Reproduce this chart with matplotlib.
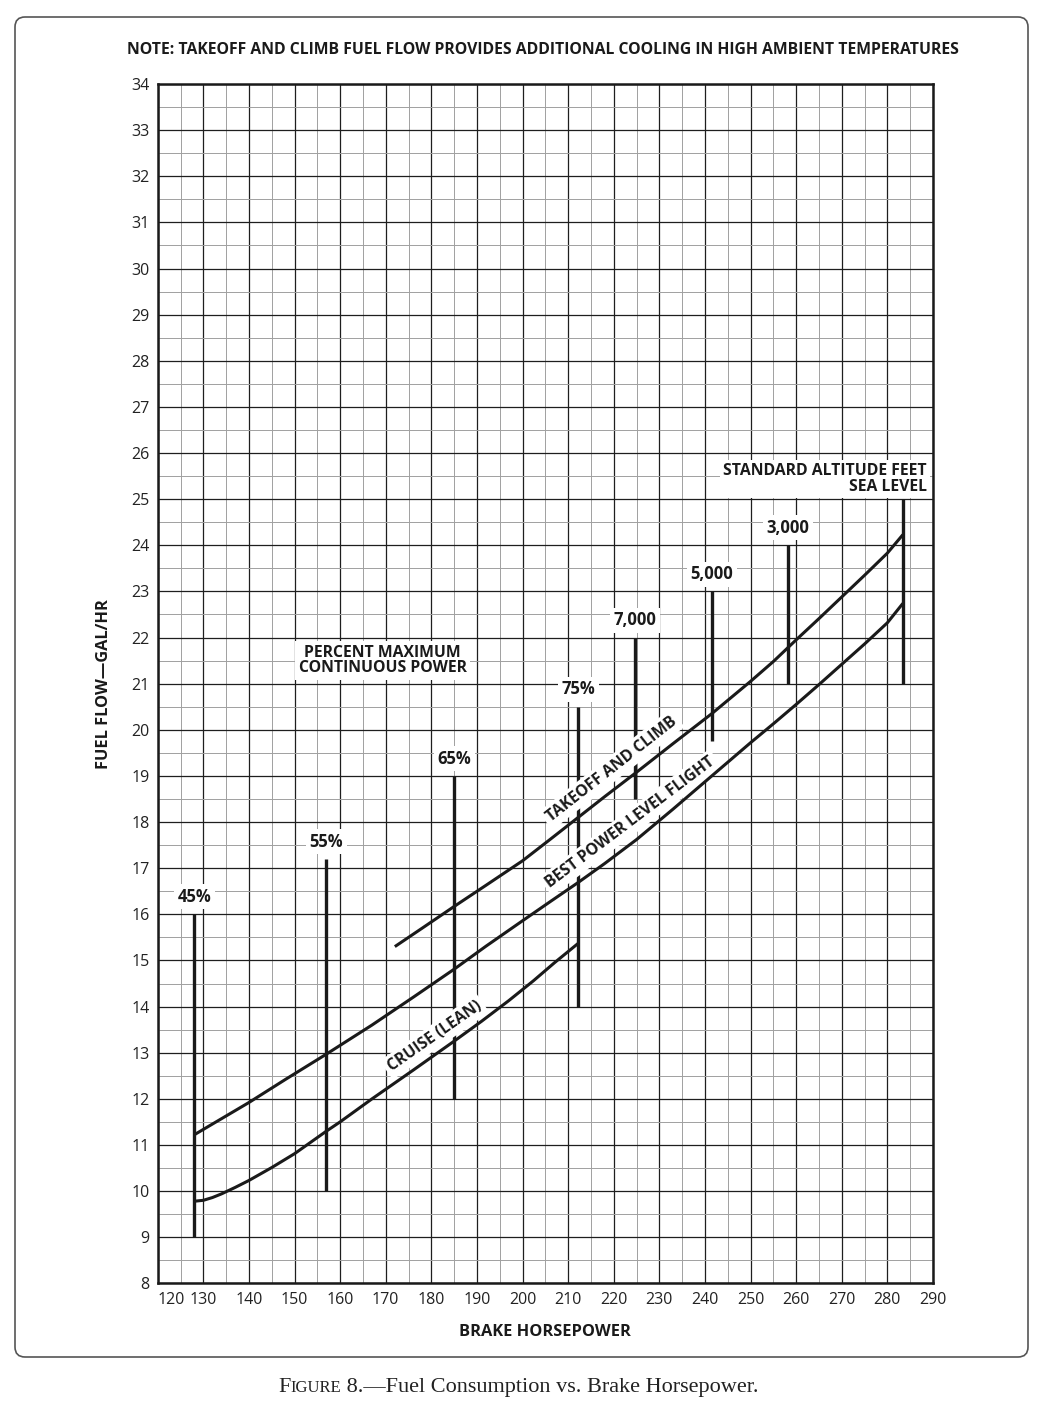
import numpy as np
import matplotlib.pyplot as plt
from matplotlib.patches import FancyBboxPatch
from matplotlib.offsetbox import TextArea, HPacker, AnchoredOffsetbox

plt.rcParams['font.family'] = ['Open Sans', 'DejaVu Sans']

## curves: brake horsepower vs fuel flow (gal/hr)
takeoff_hp = [172, 178, 185, 192, 200, 206, 212.2, 218, 225, 233, 241.5, 250, 255, 260, 265, 270, 275, 280, 283.4]
takeoff_gph = [15.3, 15.7, 16.17, 16.63, 17.16, 17.62, 18.1, 18.55, 19.08, 19.7, 20.35, 21.05, 21.48, 21.95, 22.41, 22.88, 23.35, 23.83, 24.23]

bestpower_hp = [128, 134, 140, 148, 157, 167, 176, 185, 192, 200, 206, 212.2, 218, 225, 233, 241.5, 250, 255, 260, 265, 270, 275, 280, 283.4]
bestpower_gph = [11.22, 11.57, 11.92, 12.42, 12.97, 13.6, 14.2, 14.81, 15.31, 15.86, 16.27, 16.69, 17.1, 17.62, 18.28, 19.0, 19.72, 20.13, 20.55, 20.98, 21.42, 21.86, 22.32, 22.74]

cruise_hp = [128, 130, 132, 134, 137, 140, 145, 150, 157, 160, 167, 176, 185, 191, 197, 202.4, 207, 212.2]
cruise_gph = [9.78, 9.8, 9.86, 9.94, 10.08, 10.23, 10.51, 10.81, 11.3, 11.5, 12.0, 12.62, 13.25, 13.68, 14.13, 14.56, 14.95, 15.37]

## percent maximum continuous power markers
pct_labels = ['45%', '55%', '65%', '75%']
pct_hp = [128, 157, 185, 212.2]
pct_lo = [9, 10, 12, 14]
pct_hi = [16, 17.2, 19, 20.5]

## standard altitude markers
alt_labels = ['7,000', '5,000', '3,000']
alt_hp = [224.7, 241.5, 258.2]
alt_lo = [18.5, 19.75, 21]
alt_hi = [22, 23, 24]
sea_hp = 283.4
sea_lo, sea_hi = 21, 25

x_ticks = list(range(120, 291, 10))
y_ticks = list(range(8, 35))

fig = plt.figure(figsize=(10.43, 14.14), dpi=100)
ax = fig.add_axes([0.1512, 0.0924, 0.7433, 0.8482])

ax.set_xlim(120, 290)
ax.set_ylim(8, 34)
ax.set_xticks(x_ticks)
ax.set_xticks(np.arange(125, 290, 10), minor=True)
ax.set_yticks(y_ticks)
ax.set_yticks(np.arange(8.5, 34, 1), minor=True)
ax.grid(which='major', color='#1e1e1e', lw=0.9, zorder=1)
ax.grid(which='minor', color='#a0a0a0', lw=0.7, zorder=0)
ax.set_axisbelow(True)
ax.tick_params(which='both', length=0, labelsize=11.5, colors='#222')
ax.tick_params(axis='y', pad=6)
ax.tick_params(axis='x', pad=6)
for s in ax.spines.values():
    s.set_linewidth(1.8)
    s.set_color('#1a1a1a')
ax.get_xticklabels()[0].set_horizontalalignment('left')

ax.set_xlabel('BRAKE HORSEPOWER', fontsize=11.8, fontweight='bold', labelpad=12, color='#1a1a1a')
ax.set_ylabel('FUEL FLOW\u2014GAL/HR', fontsize=11.8, fontweight='bold', labelpad=14, color='#1a1a1a')

lab = dict(fontsize=11.3, fontweight='bold', color='#1a1a1a', zorder=4)
box = dict(facecolor='white', edgecolor='none', pad=2.5)

# vertical markers
for name, x, lo, hi in zip(pct_labels, pct_hp, pct_lo, pct_hi):
    ax.plot([x, x], [lo, hi], color='#1a1a1a', lw=2.4, zorder=3, solid_capstyle='butt')
    ax.annotate(name, (x, hi), xytext=(0, 6), textcoords='offset points',
                ha='center', va='bottom', bbox=box, fontsize=12, fontweight='bold',
                color='#1a1a1a', zorder=4)
for name, x, lo, hi in zip(alt_labels, alt_hp, alt_lo, alt_hi):
    ax.plot([x, x], [lo, hi], color='#1a1a1a', lw=2.4, zorder=3, solid_capstyle='butt')
    ax.annotate(name, (x, hi), xytext=(0, 6), textcoords='offset points',
                ha='center', va='bottom', bbox=box, fontsize=12, fontweight='bold',
                color='#1a1a1a', zorder=4)
ax.plot([sea_hp, sea_hp], [sea_lo, sea_hi], color='#1a1a1a', lw=2.4, zorder=3, solid_capstyle='butt')
ax.text(288.6, 25.1, 'STANDARD ALTITUDE FEET\nSEA LEVEL', ha='right', va='bottom',
        linespacing=0.95, multialignment='right', bbox=box, **lab)

ax.text(169.3, 21.5, 'PERCENT MAXIMUM\nCONTINUOUS POWER', ha='center', va='center',
        linespacing=0.95, bbox=box, **lab)

# curves
for hp, gph in [(takeoff_hp, takeoff_gph), (bestpower_hp, bestpower_gph), (cruise_hp, cruise_gph)]:
    ax.plot(hp, gph, color='#1a1a1a', lw=2.2, zorder=5, solid_capstyle='butt', solid_joinstyle='round')

ax.text(219.5, 19.14, 'TAKEOFF AND CLIMB', rotation=38, ha='center', va='center',
        rotation_mode='anchor', bbox=box, **lab)
ax.text(223.7, 17.99, 'BEST POWER LEVEL FLIGHT', rotation=37, ha='center', va='center',
        rotation_mode='anchor', bbox=box, **lab)
ax.text(180.7, 13.35, 'CRUISE (LEAN)', rotation=35, ha='center', va='center',
        rotation_mode='anchor', bbox=box, **lab)

fig.text(0.5206, 1 - 50 / 1414, 'NOTE: TAKEOFF AND CLIMB FUEL FLOW PROVIDES ADDITIONAL COOLING IN HIGH AMBIENT TEMPERATURES',
         ha='center', va='center', fontsize=11.3, fontweight='bold', color='#1a1a1a')

# rounded outer frame
frame = FancyBboxPatch((0.15, 0.57), 10.13, 13.40, boxstyle='round,pad=0,rounding_size=0.1',
                       transform=fig.dpi_scale_trans, fill=False, ec='#555555', lw=1.2)
fig.add_artist(frame)

# caption with small caps
serif = dict(family='Liberation Serif', color='#222')
parts = [TextArea('F', textprops=dict(fontsize=16, **serif)),
         TextArea('IGURE', textprops=dict(fontsize=12, **serif)),
         TextArea(' 8.\u2014Fuel Consumption vs. Brake Horsepower.', textprops=dict(fontsize=16, **serif))]
cap = HPacker(children=parts, align='baseline', pad=0, sep=0)
anch = AnchoredOffsetbox(loc='center', child=cap, pad=0, borderpad=0, frameon=False,
                         bbox_to_anchor=(0.497, 0.0184), bbox_transform=fig.transFigure)
fig.add_artist(anch)

fig.savefig('out.png', dpi=100)
